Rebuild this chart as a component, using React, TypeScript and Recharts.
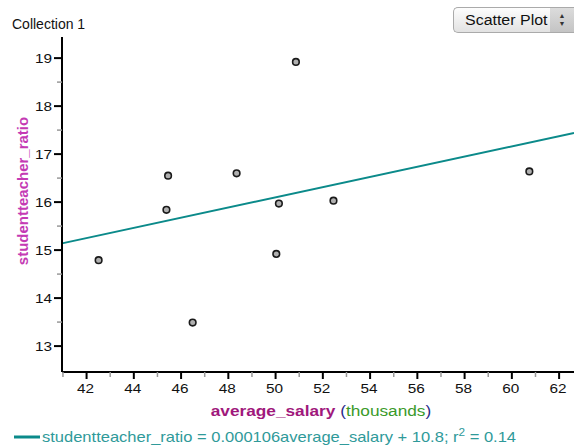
import { ReferenceLine, Scatter, ScatterChart, XAxis, YAxis } from 'recharts'

// values
const salary = [42.51, 45.45, 45.38, 46.49, 48.35, 50.86, 50.14, 50.03, 52.45, 60.74]
const ratio = [14.79, 16.55, 15.84, 13.49, 16.6, 18.92, 15.97, 14.92, 16.03, 16.64]
const xTicks = [41, 42, 43, 44, 45, 46, 47, 48, 49, 50, 51, 52, 53, 54, 55, 56, 57, 58, 59, 60, 61, 62]
const yTicks = [13, 13.5, 14, 14.5, 15, 15.5, 16, 16.5, 17, 17.5, 18, 18.5, 19]
const xDomain = [40.96, 62.63]
const yDomain = [12.46, 19.44]
const fitStart = { x: 40.96, y: 15.14 }
const fitEnd = { x: 62.63, y: 17.44 }

const FONT = '"Liberation Sans", Arial, sans-serif'
const TEAL = '#0b8a8a'
// the source picture is a little stretched sideways, so text is widened to match
const STRETCH = 1.18

const points = salary.map((s, i) => ({ salary: s, ratio: ratio[i] }))

type TickProps = { x?: number; y?: number; payload?: { value: number } }

function XTick({ x = 0, y = 0, payload }: TickProps) {
  const v = payload?.value ?? 0
  const major = v % 2 === 0
  return (
    <g>
      <line x1={x} x2={x} y1={y} y2={y + (major ? 7 : 5)} stroke={major ? '#000' : '#999'} strokeWidth={major ? 2 : 1.5} />
      {major ? (
        <text transform={`translate(${x - 1} ${y + 21}) scale(${STRETCH} 1)`} textAnchor="middle" fontSize={13} fontFamily={FONT} fill="#111">
          {v}
        </text>
      ) : null}
    </g>
  )
}

function YTick({ x = 0, y = 0, payload }: TickProps) {
  const v = payload?.value ?? 0
  const major = Number.isInteger(v)
  return (
    <g>
      <line x1={x - (major ? 8 : 5)} x2={x} y1={y} y2={y} stroke={major ? '#000' : '#999'} strokeWidth={major ? 2 : 1.5} />
      {major ? (
        <text transform={`translate(${x - 10} ${y + 5}) scale(${STRETCH} 1)`} textAnchor="end" fontSize={13} fontFamily={FONT} fill="#111">
          {v}
        </text>
      ) : null}
    </g>
  )
}

function Dot({ cx = 0, cy = 0 }: { cx?: number; cy?: number }) {
  return <circle cx={cx} cy={cy} r={3.3} fill="#b0b0b0" stroke="#1a1a1a" strokeWidth={1.6} />
}

export default function App() {
  return (
    <div style={{ position: 'fixed', left: 0, top: 0, width: 574, height: 447, background: '#fff', fontFamily: FONT }}>
      <ScatterChart width={574} height={447} margin={{ top: 37, right: 0, bottom: 0, left: 0 }}>
        <XAxis
          type="number"
          dataKey="salary"
          domain={xDomain}
          ticks={xTicks}
          interval={0}
          allowDataOverflow
          height={75}
          tickSize={0}
          tickMargin={0}
          tick={<XTick />}
          axisLine={{ stroke: '#000', strokeWidth: 2 }}
        />
        <YAxis
          type="number"
          dataKey="ratio"
          domain={yDomain}
          ticks={yTicks}
          interval={0}
          allowDataOverflow
          width={62}
          tickSize={0}
          tickMargin={0}
          tick={<YTick />}
          axisLine={{ stroke: '#000', strokeWidth: 2 }}
        />
        <ReferenceLine segment={[fitStart, fitEnd]} stroke={TEAL} strokeWidth={2} ifOverflow="visible" />
        <Scatter data={points} shape={<Dot />} isAnimationActive={false} />
      </ScatterChart>

      <svg width={574} height={447} style={{ position: 'absolute', left: 0, top: 0, pointerEvents: 'none' }}>
        <text x={12} y={29} fontSize={14} fontFamily={FONT} fill="#111">
          Collection 1
        </text>
        <text
          x={0}
          y={0}
          transform="translate(28 191) rotate(-90)"
          textAnchor="middle"
          fontSize={15}
          fontWeight="bold"
          fontFamily={FONT}
          fill="#c43ab4"
        >
          studentteacher_ratio
        </text>
        <text transform="translate(321 416) scale(1.15 1)" textAnchor="middle" fontSize={15} fontFamily={FONT}>
          <tspan fontWeight="bold" fill="#a0187c">average_salary</tspan>
          <tspan fill="#2a2a8a"> (</tspan>
          <tspan fill="#3a9a2a">thousands</tspan>
          <tspan fill="#2a2a8a">)</tspan>
        </text>
        <line x1={14} x2={40} y1={437} y2={437} stroke={TEAL} strokeWidth={3} />
        <text transform={`translate(42 442) scale(${STRETCH} 1)`} fontSize={14} fontFamily={FONT} fill="#2f9a9a">
          studentteacher_ratio = 0.000106average_salary + 10.8; r
          <tspan fontSize={10} dy={-6}>2</tspan>
          <tspan dy={6}> = 0.14</tspan>
        </text>
      </svg>

      <div
        style={{
          position: 'absolute',
          left: 453,
          top: 7,
          width: 121,
          height: 26,
          boxSizing: 'border-box',
          border: '1px solid #aaa',
          borderRight: 'none',
          borderRadius: '5px 0 0 5px',
          background: 'linear-gradient(#fdfdfd, #e2e2e2)',
          display: 'flex',
          alignItems: 'center',
        }}
      >
        <span style={{ flex: 1, paddingLeft: 11 }}>
          <span style={{ display: 'inline-block', fontSize: 14, color: '#111', transform: 'scaleX(1.14)', transformOrigin: 'left center' }}>
            Scatter Plot
          </span>
        </span>
        <span
          style={{
            width: 24,
            height: '100%',
            background: 'linear-gradient(#dcdcdc, #c4c4c4)',
            display: 'flex',
            flexDirection: 'column',
            alignItems: 'center',
            justifyContent: 'center',
            fontSize: 7,
            lineHeight: '8px',
            color: '#333',
          }}
        >
          <span>▲</span>
          <span>▼</span>
        </span>
      </div>
    </div>
  )
}
